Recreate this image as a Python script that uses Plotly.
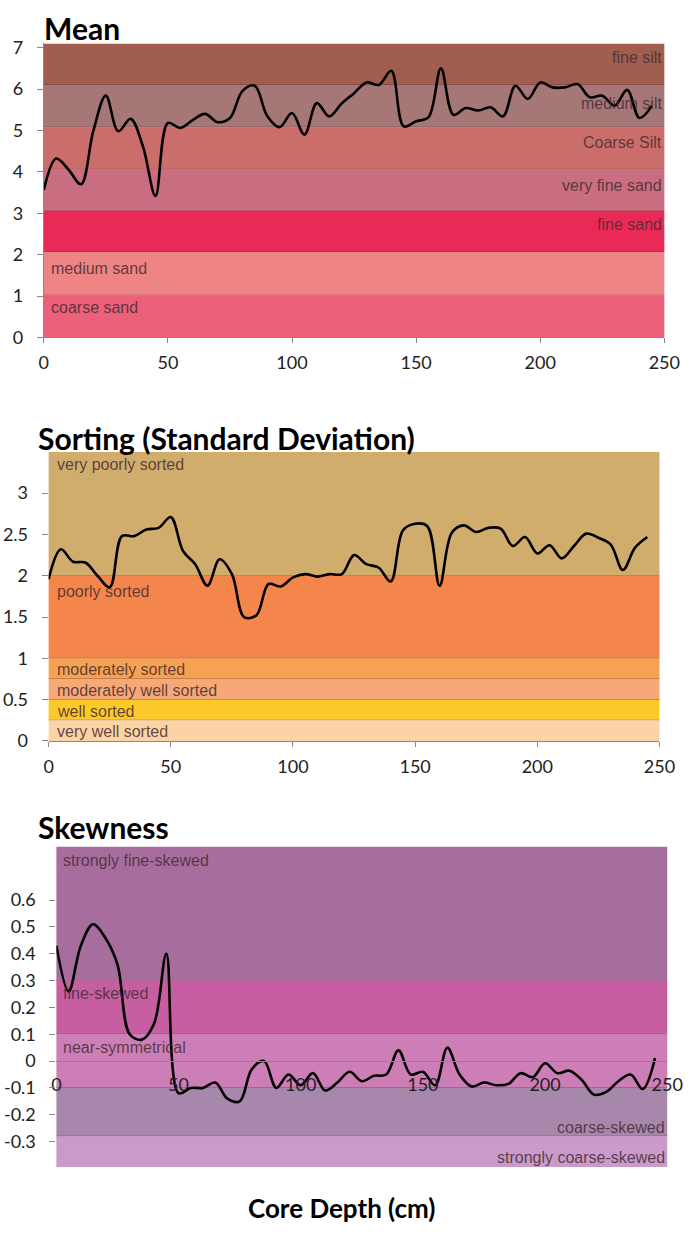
import plotly.graph_objects as go

# ---------------- data ----------------
depth = list(range(0, 250, 5))

mean_vals = [3.56, 4.32, 4.05, 3.70, 5.00, 5.84, 4.98, 5.28, 4.60, 3.42,
             5.18, 5.06, 5.25, 5.40, 5.20, 5.30, 5.95, 6.08, 5.35, 5.08,
             5.42, 4.90, 5.66, 5.34, 5.65, 5.90, 6.16, 6.10, 6.44, 5.10,
             5.22, 5.32, 6.50, 5.38, 5.54, 5.48, 5.56, 5.34, 6.08, 5.76,
             6.16, 6.04, 6.04, 6.12, 5.80, 5.84, 5.60, 5.98, 5.30, 5.60]

sorting_vals = [1.96, 2.32, 2.17, 2.16, 2.00, 1.86, 2.48, 2.48, 2.56, 2.58,
                2.71, 2.30, 2.14, 1.88, 2.20, 2.02, 1.50, 1.52, 1.90, 1.87,
                1.98, 2.02, 1.99, 2.02, 2.02, 2.25, 2.14, 2.10, 1.93, 2.55,
                2.63, 2.60, 1.88, 2.52, 2.61, 2.53, 2.58, 2.57, 2.36, 2.47,
                2.27, 2.37, 2.21, 2.36, 2.51, 2.46, 2.38, 2.07, 2.34, 2.47]

skew_vals = [0.43, 0.26, 0.43, 0.51, 0.46, 0.36, 0.10, 0.08, 0.14, 0.40,
             -0.12, -0.10, -0.10, -0.08, -0.14, -0.15, -0.03, 0.00, -0.10, -0.05,
             -0.09, -0.045, -0.11, -0.08, -0.04, -0.075, -0.055, -0.05, 0.04, -0.05,
             -0.04, -0.09, 0.05, -0.05, -0.095, -0.08, -0.09, -0.085, -0.045, -0.06,
             -0.008, -0.045, -0.036, -0.07, -0.125, -0.115, -0.075, -0.05, -0.104, 0.011]

# band classes
mean_bands_lo = [6.10, 5.08, 4.06, 3.06, 2.06, 1.02, 0.0]
mean_bands_hi = [7.10, 6.10, 5.08, 4.06, 3.06, 2.06, 1.02]
mean_labels = ["fine silt", "medium silt", "Coarse Silt", "very fine sand",
               "fine sand", "medium sand", "coarse sand"]
mean_colors = ["#A05E4E", "#A67777", "#CB6E6B", "#C86E80",
               "#EA2A56", "#EE8484", "#EC6079"]
mean_label_y = [6.76, 5.66, 4.70, 3.68, 2.74, 1.66, 0.72]
mean_label_side = ["right", "right", "right", "right", "right", "left", "left"]

sort_bands_lo = [2.0, 1.0, 0.75, 0.5, 0.25, 0.0]
sort_bands_hi = [3.5, 2.0, 1.0, 0.75, 0.5, 0.25]
sort_labels = ["very poorly sorted", "poorly sorted", "moderately sorted",
               "moderately well sorted", "well sorted", "very well sorted"]
sort_colors = ["#D0AC6D", "#F4864B", "#F6A252", "#F6A877", "#FBCA2A", "#FCD3A5"]
sort_label_y = [3.35, 1.81, 0.866, 0.614, 0.361, 0.12]

skew_bands_lo = [0.3, 0.1, -0.1, -0.28, -0.395]
skew_bands_hi = [0.80, 0.3, 0.1, -0.1, -0.28]
skew_labels = ["strongly fine-skewed", "fine-skewed", "near-symmetrical",
               "coarse-skewed", "strongly coarse-skewed"]
skew_colors = ["#A76D9D", "#C75EA2", "#CD7EB7", "#A887AD", "#C99ACA"]
skew_label_y = [0.746, 0.251, 0.0525, -0.2475, -0.36]
skew_label_side = ["left", "left", "left", "right", "right"]

mean_ticks = [0, 1, 2, 3, 4, 5, 6, 7]
sort_ticks = [0, 0.5, 1, 1.5, 2, 2.5, 3]
sort_ticktext = ["0", "0.5", "1", "1.5", "2", "2.5", "3"]
skew_ticks = [-0.3, -0.2, -0.1, 0, 0.1, 0.2, 0.3, 0.4, 0.5, 0.6]
skew_ticktext = ["-0.3", "-0.2", "-0.1", "0", "0.1", "0.2", "0.3", "0.4", "0.5", "0.6"]
x_ticks = [0, 50, 100, 150, 200, 250]

# ---------------- layout geometry ----------------
W, H = 691, 1254
def px_x(a, b):
    return [a / W, b / W]
def px_y(top, bottom):
    return [1 - bottom / H, 1 - top / H]

fig = go.Figure()

line_style = dict(color="black", width=2.6, shape="spline", smoothing=1.0)
fig.add_trace(go.Scatter(x=depth, y=mean_vals, mode="lines", line=line_style,
                         xaxis="x", yaxis="y", showlegend=False, hoverinfo="skip"))
fig.add_trace(go.Scatter(x=depth, y=sorting_vals, mode="lines", line=line_style,
                         xaxis="x2", yaxis="y2", showlegend=False, hoverinfo="skip"))
fig.add_trace(go.Scatter(x=depth, y=skew_vals, mode="lines", line=line_style,
                         xaxis="x3", yaxis="y3", showlegend=False, hoverinfo="skip"))

shapes = []
annotations = []
label_font = dict(family="Liberation Sans, Arial, sans-serif", size=16,
                  color="rgba(70,45,50,0.85)")
edge_line = dict(color="rgba(90,45,55,0.55)", width=1)

def add_bands(xs, ys, lo, hi, colors, labels, label_y, sides, xpad):
    for i in range(len(lo)):
        shapes.append(dict(type="rect", xref=xs + " domain", yref=ys,
                           x0=0, x1=1, y0=lo[i], y1=hi[i],
                           fillcolor=colors[i], line=dict(width=0), layer="below"))
        if lo[i] > min(lo):
            shapes.append(dict(type="line", xref=xs + " domain", yref=ys,
                               x0=0, x1=1, y0=lo[i], y1=lo[i],
                               line=edge_line, layer="below"))
        side = sides[i]
        annotations.append(dict(
            text=labels[i], xref=xs + " domain", yref=ys,
            x=0 if side == "left" else 1, y=label_y[i],
            xanchor=side, yanchor="middle",
            xshift=xpad if side == "left" else 0,
            showarrow=False, font=label_font))

add_bands("x", "y", mean_bands_lo, mean_bands_hi, mean_colors, mean_labels,
          mean_label_y, mean_label_side, 5)
add_bands("x2", "y2", sort_bands_lo, sort_bands_hi, sort_colors, sort_labels,
          sort_label_y, ["left"] * len(sort_labels), 6)
add_bands("x3", "y3", skew_bands_lo, skew_bands_hi, skew_colors, skew_labels,
          skew_label_y, skew_label_side, 5)

title_font = dict(family="Lato, sans-serif", size=30, color="black")
for txt, xp, yp in [("<b>Mean</b>", 38, 21), ("<b>Sorting (Standard Deviation)</b>", 32, 437),
                    ("<b>Skewness</b>", 32, 831)]:
    annotations.append(dict(text=txt, xref="paper", yref="paper", x=xp / W, y=1 - yp / H,
                            xanchor="left", yanchor="middle", showarrow=False,
                            font=title_font))
annotations.append(dict(text="<b>Core Depth (cm)</b>", xref="paper", yref="paper",
                        x=348 / W, y=1 - 1217 / H, xanchor="center", yanchor="middle",
                        showarrow=False, font=dict(family="Lato, sans-serif", size=26,
                                                   color="black")))

tick_font = dict(family="Lato, sans-serif", size=18, color="#222222")
axis_common = dict(showgrid=False, zeroline=False, ticks="outside", ticklen=6,
                   tickcolor="#888888", linecolor="#888888", tickfont=tick_font)

# skewness x-axis sits on the zero line
skew_dom = px_y(851, 1176)
skew_range = [-0.395, 0.80]
zero_pos = skew_dom[0] + (0 - skew_range[0]) / (skew_range[1] - skew_range[0]) * (skew_dom[1] - skew_dom[0])

fig.update_layout(
    width=W, height=H,
    margin=dict(l=0, r=0, t=0, b=0),
    paper_bgcolor="white", plot_bgcolor="white",
    showlegend=False,
    xaxis=dict(domain=px_x(40, 680), range=[0, 250], tickvals=x_ticks,
               showline=True, anchor="y", ticklabelstandoff=4, **axis_common),
    yaxis=dict(domain=px_y(37, 335), range=[0, 7.1], tickvals=mean_ticks,
               showline=True, anchor="x", ticklabelstandoff=10, **axis_common),
    xaxis2=dict(domain=px_x(45, 675), range=[0, 250], tickvals=x_ticks,
                showline=True, anchor="y2", ticklabelstandoff=4, **axis_common),
    yaxis2=dict(domain=px_y(451, 744), range=[0, 3.5], tickvals=sort_ticks,
                ticktext=sort_ticktext, showline=False, anchor="x2",
                ticklabelstandoff=10, **axis_common),
    xaxis3=dict(domain=px_x(53, 683), range=[0, 250], tickvals=x_ticks,
                showline=True, anchor="free", position=zero_pos,
                ticklabelstandoff=7, **axis_common),
    yaxis3=dict(domain=skew_dom, range=skew_range, tickvals=skew_ticks,
                ticktext=skew_ticktext, showline=False, anchor="x3",
                ticklabelstandoff=10, **axis_common),
    shapes=shapes,
    annotations=annotations,
)
fig.update_xaxes(ticklen=5)
fig.layout.xaxis3.ticks = ""

fig.write_html("out.html",
               post_script="document.body.style.margin='0';"
                           "document.body.style.overflow='hidden';")
